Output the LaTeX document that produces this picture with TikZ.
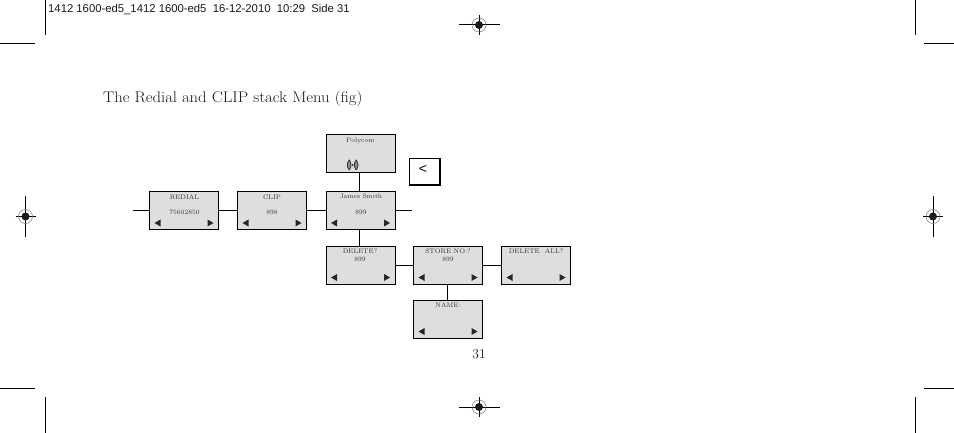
\documentclass[tikz,border=0pt]{standalone}
\usepackage{fontspec}
\newfontfamily\headfont{Liberation Sans}
\newfontfamily\titlefont[FakeStretch=1.08]{Latin Modern Roman}
\tikzset{
  menubox/.style={draw=black,line width=1pt,fill=black!13,minimum width=69pt,minimum height=38pt,inner sep=0pt},
  keybox/.style={draw=black,line width=1pt,minimum width=30pt,minimum height=26pt,inner sep=0pt},
  boxtext/.style={inner sep=0pt,font=\fontsize{6.6}{7}\selectfont,text=black!80},
  pagetext/.style={inner sep=0pt,anchor=west,text=black!90},
  link/.style={black,line width=1pt},
  crop/.style={black,line width=1pt}
}
% soft key triangles of a box
\newcommand{\softkeys}[1]{
  \fill [black!85] ([shift={(5.5,7)}]#1.south west) -- ++(6,3.5) -- ++(0,-7) -- cycle;
  \fill [black!85] ([shift={(-5.5,7)}]#1.south east) -- ++(-6,3.5) -- ++(0,-7) -- cycle;
}
% registration mark: centre, half width, half height
\newcommand{\regmark}[3]{
  \draw [crop] ([xshift=-#2pt]#1) -- ([xshift=#2pt]#1);
  \draw [crop] ([yshift=-#3pt]#1) -- ([yshift=#3pt]#1);
  \draw [black!55,line width=0.5pt] (#1) circle (7);
  \fill [black!90] (#1) circle (4);
}
\begin{document}
\begin{tikzpicture}[x=1pt,y=1pt]
\useasboundingbox (0,0) rectangle (954,-433);
% crop marks
\draw [crop] (45,0) -- (45,-35);
\draw [crop] (0,-44) -- (35,-44);
\draw [crop] (915,0) -- (915,-35);
\draw [crop] (924,-44) -- (954,-44);
\draw [crop] (0,-388) -- (35,-388);
\draw [crop] (45,-397) -- (45,-433);
\draw [crop] (924,-388) -- (954,-388);
\draw [crop] (915,-397) -- (915,-433);
\coordinate (regtop) at (479,-25);
\coordinate (regleft) at (25.5,-216.5);
\coordinate (regright) at (933,-216.5);
\coordinate (regbottom) at (479,-407);
\regmark{regtop}{20.5}{10}
\regmark{regleft}{10}{20.5}
\regmark{regright}{10}{20.5}
\regmark{regbottom}{20.5}{10}
% page texts
\node (slug) [pagetext,font=\headfont\fontsize{11.3}{12}\selectfont] at (48,-9.5) {1412 1600-ed5\_1412 1600-ed5\ \ 16-12-2010\ \ 10:29\ \ Side 31};
\node (title) [pagetext,font=\titlefont\fontsize{15.4}{17}\selectfont] at (103,-99) {The Redial and CLIP stack Menu (fig)};
\node (pageno) [inner sep=0pt,font=\fontsize{13.5}{15}\selectfont,text=black!90] at (479,-354) {31};
% boxes
\node (polycom) [menubox] at (360.5,-153.5) {};
\node (back) [keybox] at (424,-172) {};
\draw [black,line width=2pt] (back.south west) -- (back.south east) -- (back.north east);
\node (redial) [menubox] at (184,-210.5) {};
\node (clip) [menubox] at (272,-210.5) {};
\node (james) [menubox] at (360.5,-210.5) {};
\node (delete) [menubox] at (360.5,-265) {};
\node (store) [menubox] at (448,-265) {};
\node (deleteall) [menubox] at (536,-265) {};
\node (name) [menubox] at (448,-319) {};
% box texts
\node (polycomtxt) [boxtext] at (360.5,-141) {Polycom};
\node (backtxt) [inner sep=0pt,font=\headfont\fontsize{14}{15}\selectfont] at (423,-169) {<};
\node (redialtxt) [boxtext] at (184.5,-197) {REDIAL};
\node (redialnum) [boxtext] at (184.5,-212.5) {75602850};
\node (cliptxt) [boxtext] at (272,-197) {CLIP};
\node (clipnum) [boxtext] at (272,-212.5) {898};
\node (jamestxt) [boxtext] at (361,-196) {James Smith};
\node (jamesnum) [boxtext] at (361,-212) {899};
\node (deletetxt) [boxtext] at (360,-251) {DELETE?};
\node (deletenum) [boxtext] at (360,-259.5) {899};
\node (storetxt) [boxtext] at (448,-251) {STORE NO.?};
\node (storenum) [boxtext] at (448,-259.5) {899};
\node (deletealltxt) [boxtext] at (536,-251) {DELETE\ \ ALL?};
\node (nametxt) [boxtext] at (448,-305) {NAME:};
% soft keys
\softkeys{redial}
\softkeys{clip}
\softkeys{james}
\softkeys{delete}
\softkeys{store}
\softkeys{deleteall}
\softkeys{name}
% antenna icon
\coordinate (antenna) at (352.7,-165);
\fill [black!85] (antenna) circle (1);
\foreach \side in {-1,1} {
  \draw [black!85,fill=black!45,line width=0.7pt] ([xshift=\side*3.5pt]antenna) ++(0,-5) .. controls +(\side*2.5,3) and +(\side*2.5,-3) .. ++(0,10) .. controls +(\side*-2.5,-3) and +(\side*-2.5,3) .. ++(0,-10);
}
% connectors
\coordinate (leftend) at (133,-210.5);
\coordinate (rightend) at (412,-210.5);
\draw [link] (leftend) -- (redial);
\draw [link] (redial) -- (clip);
\draw [link] (clip) -- (james);
\draw [link] (james) -- (rightend);
\draw [link] ([xshift=-1pt]polycom.south) -- ([xshift=-1pt]james.north);
\draw [link] ([xshift=-1pt]james.south) -- ([xshift=-1pt]delete.north);
\draw [link] (delete) -- (store);
\draw [link] (store) -- (deleteall);
\draw [link] ([xshift=-0.5pt]store.south) -- ([xshift=-0.5pt]name.north);
\end{tikzpicture}
\end{document}
